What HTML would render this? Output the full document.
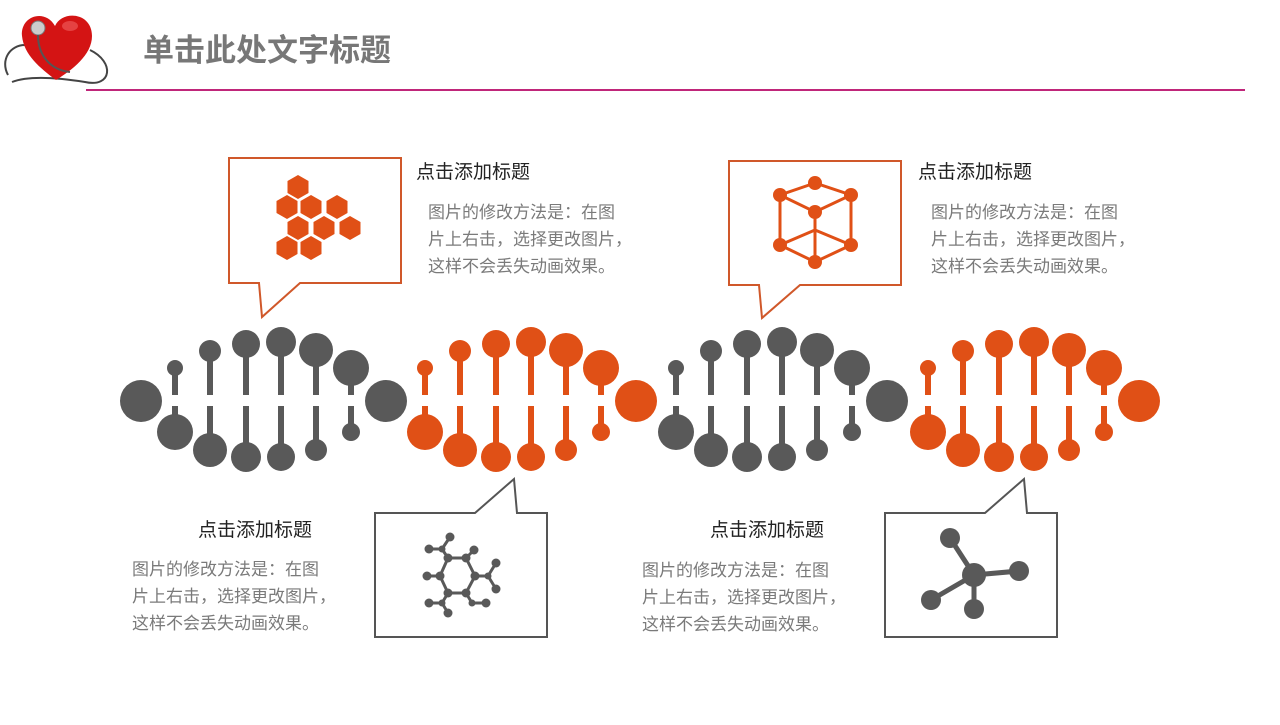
<!DOCTYPE html>
<html><head><meta charset="utf-8"><style>
body{margin:0;width:1280px;height:720px;background:#fff;overflow:hidden;font-family:"Liberation Sans","Noto Sans CJK SC",sans-serif;}
</style></head><body>
<svg width="1280" height="720" viewBox="0 0 1280 720" xmlns="http://www.w3.org/2000/svg" font-family="Liberation Sans, Noto Sans CJK SC, sans-serif">
<defs>
<g id="u">
<rect x="-3" y="368" width="6" height="27"/><rect x="-3" y="406" width="6" height="26"/>
<rect x="32" y="351" width="6" height="44"/><rect x="32" y="406" width="6" height="44"/>
<rect x="68" y="344" width="6" height="51"/><rect x="68" y="406" width="6" height="51"/>
<rect x="103" y="342" width="6" height="53"/><rect x="103" y="406" width="6" height="51"/>
<rect x="138" y="350" width="6" height="45"/><rect x="138" y="406" width="6" height="44"/>
<rect x="173" y="368" width="6" height="27"/><rect x="173" y="406" width="6" height="26"/>
<circle cx="0" cy="368" r="8"/><circle cx="35" cy="351" r="11"/><circle cx="71" cy="344" r="14"/><circle cx="106" cy="342" r="15"/><circle cx="141" cy="350" r="17"/><circle cx="176" cy="368" r="18"/>
<circle cx="0" cy="432" r="18"/><circle cx="35" cy="450" r="17"/><circle cx="71" cy="457" r="15"/><circle cx="106" cy="457" r="14"/><circle cx="141" cy="450" r="11"/><circle cx="176" cy="432" r="9"/>
<circle cx="211" cy="401" r="21"/>
</g>
<polygon id="hx" points="0,-12 10.5,-6 10.5,6 0,12 -10.5,6 -10.5,-6"/>
</defs>
<!-- header -->
<path d="M8,75 C0,60 10,45 25,45 M90,50 C115,62 112,88 85,82 C60,78 30,75 12,82" stroke="#444" stroke-width="2" fill="none"/>
<path d="M56,80 C40,68 24,55 22,36 C20,16 45,8 55,26 C62,10 92,12 92,36 C92,55 72,70 56,80Z" fill="#d41414"/>
<ellipse cx="70" cy="26" rx="8" ry="5" fill="#f06060" opacity="0.6"/>
<circle cx="38" cy="28" r="7" fill="#ccc" stroke="#777"/>
<path d="M38,35 C38,55 50,70 70,72" stroke="#555" stroke-width="2" fill="none"/>
<text x="143" y="61" font-size="31" font-weight="bold" fill="#777">单击此处文字标题</text>
<rect x="86" y="89" width="1159" height="2" fill="#c0267a"/>
<!-- DNA -->
<circle cx="141" cy="401" r="21" fill="#595959"/>
<use href="#u" x="175" fill="#595959"/>
<use href="#u" x="425" fill="#e05016"/>
<use href="#u" x="676" fill="#595959"/>
<use href="#u" x="928" fill="#e05016"/>
<!-- callouts -->
<path d="M229,158 H401 V283 H300 L262,317 L259,283 H229 Z" fill="#fff" stroke="#d0582a" stroke-width="2"/>
<path d="M729,161 H901 V285 H800 L762,318 L759,285 H729 Z" fill="#fff" stroke="#d0582a" stroke-width="2"/>
<path d="M375,513 H475 L514,479 L517,513 H547 V637 H375 Z" fill="#fff" stroke="#555" stroke-width="2"/>
<path d="M885,513 H985 L1024,479 L1027,513 H1057 V637 H885 Z" fill="#fff" stroke="#555" stroke-width="2"/>
<!-- hexes -->
<g fill="#e05016">
<use href="#hx" x="298" y="187"/><use href="#hx" x="287" y="207"/><use href="#hx" x="311" y="207"/><use href="#hx" x="337" y="207"/>
<use href="#hx" x="298" y="228"/><use href="#hx" x="324" y="228"/><use href="#hx" x="350" y="228"/><use href="#hx" x="287" y="248"/><use href="#hx" x="311" y="248"/>
</g>
<!-- cube -->
<g stroke="#e05016" stroke-width="3" fill="none">
<path d="M815,183 L780,195 L815,212 L851,195 Z M780,195 V245 L815,262 L851,245 V195 M815,212 V262 M780,245 L815,230 L851,245"/>
</g>
<g fill="#e05016"><circle cx="815" cy="183" r="7"/><circle cx="780" cy="195" r="7"/><circle cx="851" cy="195" r="7"/><circle cx="815" cy="212" r="7"/><circle cx="780" cy="245" r="7"/><circle cx="851" cy="245" r="7"/><circle cx="815" cy="262" r="7"/></g>
<!-- molecule ring -->
<g stroke="#595959" stroke-width="3" fill="none">
<path d="M448,558 L466,558 L475,576 L466,593 L448,593 L440,576 Z M448,558 L442,549 L429,549 M442,549 L450,537 M466,558 L474,550 M475,576 L488,576 L496,563 M488,576 L496,589 M466,593 L472,603 L486,603 M448,593 L442,603 L429,603 M442,603 L448,613 M440,576 L427,576"/>
</g>
<g fill="#595959"><circle cx="448" cy="558" r="4.5"/><circle cx="466" cy="558" r="4.5"/><circle cx="475" cy="576" r="4.5"/><circle cx="466" cy="593" r="4.5"/><circle cx="448" cy="593" r="4.5"/><circle cx="440" cy="576" r="4.5"/><circle cx="429" cy="549" r="4.5"/><circle cx="450" cy="537" r="4.5"/><circle cx="474" cy="550" r="4.5"/><circle cx="496" cy="563" r="4.5"/><circle cx="496" cy="589" r="4.5"/><circle cx="486" cy="603" r="4.5"/><circle cx="429" cy="603" r="4.5"/><circle cx="448" cy="613" r="4.5"/><circle cx="427" cy="576" r="4.5"/><circle cx="488" cy="576" r="3.5"/><circle cx="442" cy="549" r="3.5"/><circle cx="472" cy="603" r="3.5"/><circle cx="442" cy="603" r="3.5"/></g>
<!-- molecule star -->
<g stroke="#595959" stroke-width="5"><path d="M974,575 L950,538 M974,575 L1019,571 M974,575 L931,600 M974,575 L974,609"/></g>
<g fill="#595959"><circle cx="974" cy="575" r="12"/><circle cx="950" cy="538" r="10"/><circle cx="1019" cy="571" r="10"/><circle cx="931" cy="600" r="10"/><circle cx="974" cy="609" r="10"/></g>
<!-- texts -->
<g font-size="19" fill="#222">
<text x="416" y="178">点击添加标题</text>
<text x="918" y="178">点击添加标题</text>
<text x="198" y="536">点击添加标题</text>
<text x="710" y="536">点击添加标题</text>
</g>
<g font-size="17" fill="#7a7a7a">
<text x="428" y="218">图片的修改方法是：在图</text><text x="428" y="245">片上右击，选择更改图片，</text><text x="428" y="272">这样不会丢失动画效果。</text>
<text x="931" y="218">图片的修改方法是：在图</text><text x="931" y="245">片上右击，选择更改图片，</text><text x="931" y="272">这样不会丢失动画效果。</text>
<text x="132" y="575">图片的修改方法是：在图</text><text x="132" y="602">片上右击，选择更改图片，</text><text x="132" y="629">这样不会丢失动画效果。</text>
<text x="642" y="576">图片的修改方法是：在图</text><text x="642" y="603">片上右击，选择更改图片，</text><text x="642" y="630">这样不会丢失动画效果。</text>
</g>
</svg>
</body></html>
